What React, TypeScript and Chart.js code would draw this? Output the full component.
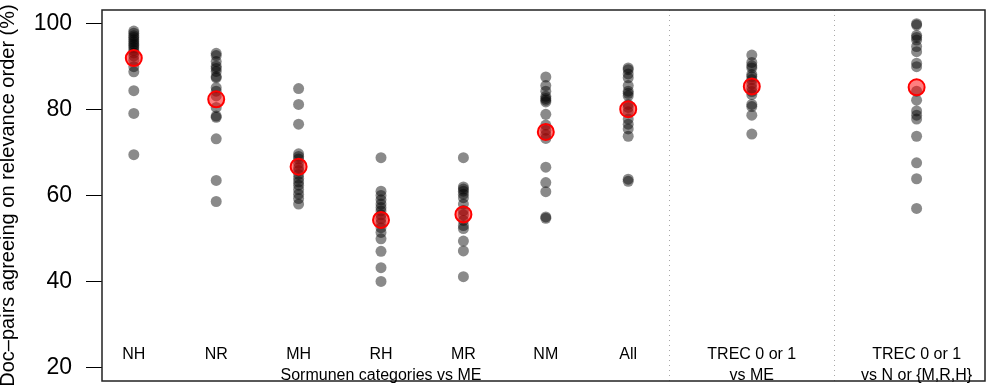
import React, { useEffect, useRef } from "react";
import { Chart, registerables } from "chart.js";

Chart.register(...registerables);

const FONT = "'Liberation Sans', Arial, Helvetica, sans-serif";

// Category positions along the x axis (gap before the two TREC columns)
const categoryLines: string[][] = [
  ["NH"],
  ["NR"],
  ["MH"],
  ["RH"],
  ["MR"],
  ["NM"],
  ["All"],
  ["TREC 0 or 1", "vs ME"],
  ["TREC 0 or 1", "vs N or {M,R,H}"],
];
const positions = [1, 2, 3, 4, 5, 6, 7, 8.5, 10.5];
const separators = [7.5, 9.5];
const groupLabel = "Sormunen categories vs ME";
const groupLabelPos = 4;

const yTicks = [20, 40, 60, 80, 100];
const yTitle = "Doc\u2013pairs agreeing on relevance order (%)";

// Per-topic agreement values (%) for each comparison
const nh = [98.3, 97.8, 97.2, 96.8, 96.3, 95.8, 95.3, 94.9, 94.4, 93.8, 93.2, 92.5, 91.5, 90.0, 88.8, 84.4, 79.1, 69.5];
const nr = [93.1, 92.6, 91.2, 90.1, 89.6, 88.9, 87.7, 87.4, 85.1, 84.3, 83.2, 80.5, 78.5, 78.2, 73.2, 63.5, 58.6];
const mh = [84.9, 81.2, 76.6, 69.7, 69.1, 68.5, 67.5, 66.5, 65.8, 64.9, 64.0, 63.2, 62.4, 61.4, 60.3, 59.3, 58.0];
const rh = [68.8, 61.0, 60.0, 59.0, 58.0, 57.2, 56.4, 55.5, 54.6, 53.6, 52.5, 51.4, 49.9, 47.0, 43.2, 40.0];
const mr = [68.8, 62.0, 61.5, 61.0, 60.3, 59.5, 58.0, 56.5, 55.5, 54.2, 53.0, 52.3, 49.4, 47.1, 41.1];
const nm = [87.6, 85.6, 84.3, 83.1, 82.6, 82.2, 81.8, 78.9, 76.4, 75.2, 74.2, 73.3, 66.6, 63.0, 60.9, 55.0, 54.7];
const all = [89.7, 89.3, 88.3, 87.4, 85.6, 84.3, 83.8, 83.2, 81.2, 80.5, 79.5, 77.8, 76.6, 75.5, 73.8, 63.8, 63.3];
const trecMe = [92.7, 91.0, 90.2, 89.7, 88.2, 87.7, 87.0, 86.0, 85.0, 84.2, 83.5, 81.2, 80.7, 78.7, 74.3];
const trecNmrh = [100.0, 99.7, 97.3, 96.8, 96.2, 94.7, 93.5, 90.8, 90.0, 84.3, 82.2, 79.7, 78.7, 77.8, 73.8, 67.6, 63.9, 57.0];

const groups = [nh, nr, mh, rh, mr, nm, all, trecMe, trecNmrh];
const means = [92.0, 82.4, 66.7, 54.3, 55.6, 74.8, 80.1, 85.4, 85.2];

const annotations = {
  id: "annotations",
  beforeDatasetsDraw(chart: any) {
    const { ctx, chartArea, scales } = chart;
    const xs = scales.x;
    ctx.save();
    ctx.strokeStyle = "#a8a8a8";
    ctx.lineWidth = 1;
    ctx.setLineDash([1, 4]);
    for (const s of separators) {
      const px = Math.round(xs.getPixelForValue(s)) + 0.5;
      ctx.beginPath();
      ctx.moveTo(px, chartArea.top);
      ctx.lineTo(px, chartArea.bottom);
      ctx.stroke();
    }
    ctx.restore();
  },
  afterDraw(chart: any) {
    const { ctx, chartArea, scales } = chart;
    const xs = scales.x;
    ctx.save();
    // plot frame
    ctx.strokeStyle = "#222";
    ctx.lineWidth = 1.5;
    ctx.strokeRect(chartArea.left, chartArea.top, chartArea.right - chartArea.left, chartArea.bottom - chartArea.top);

    // category labels inside the plot
    ctx.fillStyle = "#000";
    ctx.font = `16px ${FONT}`;
    ctx.textAlign = "center";
    ctx.textBaseline = "alphabetic";
    categoryLines.forEach((lines, i) => {
      const px = xs.getPixelForValue(positions[i]);
      lines.forEach((t, j) => ctx.fillText(t, px, 359 + j * 21));
    });
    ctx.fillText(groupLabel, xs.getPixelForValue(groupLabelPos), 380);

    // y axis title
    ctx.font = `20px ${FONT}`;
    ctx.translate(13.5, (chartArea.top + chartArea.bottom) / 2);
    ctx.rotate(-Math.PI / 2);
    ctx.textAlign = "center";
    ctx.fillText(yTitle, 0, 0);
    ctx.restore();
  },
};

export default function App() {
  const ref = useRef<HTMLCanvasElement>(null);

  useEffect(() => {
    document.body.style.margin = "0";
    const points: { x: number; y: number }[] = [];
    groups.forEach((vals, i) => vals.forEach((v) => points.push({ x: positions[i], y: v })));
    const meanPoints = means.map((m, i) => ({ x: positions[i], y: m }));

    const chart = new Chart(ref.current!, {
      type: "scatter",
      data: {
        datasets: [
          {
            data: meanPoints,
            order: 0,
            pointRadius: 8,
            pointBackgroundColor: "rgba(255,0,0,0.5)",
            pointBorderColor: "rgb(255,0,0)",
            pointBorderWidth: 2,
          },
          {
            data: points,
            order: 1,
            pointRadius: 5.5,
            pointBackgroundColor: "rgba(0,0,0,0.46)",
            pointBorderWidth: 0,
          },
        ],
      },
      options: {
        responsive: false,
        animation: false,
        devicePixelRatio: 1,
        layout: { padding: { left: 0, right: 4, top: 9, bottom: 7 } },
        plugins: { legend: { display: false }, tooltip: { enabled: false } },
        scales: {
          x: { type: "linear", min: 0.614, max: 11.33, display: false },
          y: {
            type: "linear",
            min: 16.8,
            max: 103.2,
            afterBuildTicks: (s: any) => {
              s.ticks = yTicks.map((v) => ({ value: v }));
            },
            afterFit: (s: any) => {
              s.width = 102;
              s.paddingTop = 0;
              s.paddingBottom = 0;
            },
            ticks: { color: "#000", padding: 14, font: { family: FONT, size: 23 } },
            grid: { drawOnChartArea: false, drawTicks: true, tickLength: 16, color: "#000", lineWidth: 1 },
            border: { display: false },
          },
        },
      },
      plugins: [annotations],
    });
    return () => chart.destroy();
  }, []);

  return <canvas ref={ref} width={995} height={391} style={{ display: "block" }} />;
}
